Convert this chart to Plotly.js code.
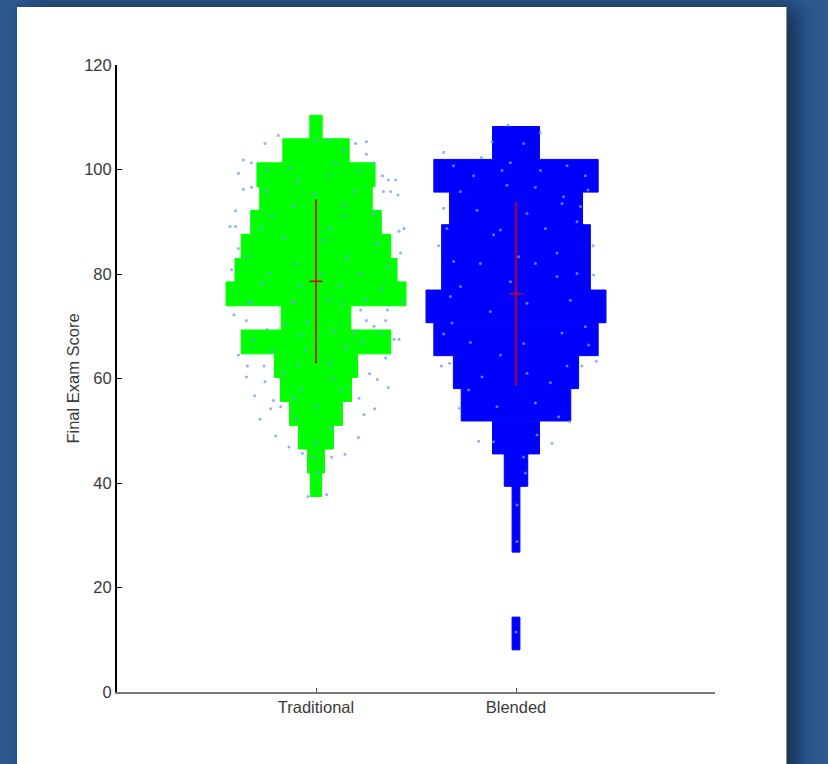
<!DOCTYPE html>
<html>
<head>
<meta charset="utf-8">
<script src="https://cdn.plot.ly/plotly-3.0.1.min.js"></script>
<style>
  html, body { margin: 0; padding: 0; width: 828px; height: 764px; overflow: hidden; background: rgb(44, 90, 145); }
  #panel { position: absolute; left: 17px; top: 7px; width: 769px; height: 820px; background: #ffffff;
           border-right: 1px solid #8a8f99; box-shadow: 10px 0 22px rgba(5, 15, 35, 0.6); }
  #chart { position: absolute; left: 0; top: 0; width: 828px; height: 764px; }
</style>
</head>
<body>
<div id="panel"></div>
<div id="chart"></div>
<script>
// ---------- data ----------
const categories = ['Traditional', 'Blended'];
const tickLabels = ['Traditional', 'Blended'];

// histogram bins (centres of score bins) and relative bin density
const greenBinCentres = [108.1, 103.6, 99.0, 94.4, 89.9, 85.3, 80.7, 76.2, 71.6, 67.0, 62.5, 57.9, 53.3, 48.8, 44.2, 39.7];
const greenDensity    = [1.1, 5.9, 10.5, 10.0, 11.6, 13.3, 14.4, 16.0, 6.2, 13.3, 7.4, 6.3, 4.7, 3.1, 1.5, 1.0];
const blueBinCentres  = [105.1, 98.8, 92.5, 86.3, 80.0, 73.8, 67.5, 61.2, 55.0, 48.7, 42.5, 36.2, 29.9, 23.7, 17.4, 11.2];
const blueDensity     = [6, 21, 17, 19, 19, 23, 21, 16, 14, 6, 3, 1, 1, 0, 0, 1];
const greenBinHeight = 4.57;
const blueBinHeight = 6.26;

// mean and standard deviation
const means = [78.6, 76.2];
const sds = [15.5, 17.4];

// raw scores with horizontal jitter
const tradScores = [106.5,105.0,105.0,105.3,102.9,101.8,101.3,101.3,99.3,98.8,98.0,98.0,96.2,96.6,95.8,95.8,95.1,92.1,89.1,89.1,88.7,88.2,84.9,84.0,80.8,72.2,73.1,73.1,
  105.6,105.7,103.7,101.3,99.8,99.9,100.2,97.7,98.8,95.8,95.4,95.8,92.9,93.2,91.6,91.0,91.0,88.7,88.7,86.8,86.5,85.9,83.3,82.0,83.3,81.4,80.1,80.1,80.1,78.2,77.6,77.6,77.3,74.7,74.7,75.0,75.0,74.7,
  71.1,64.5,62.4,62.4,60.3,59.4,56.7,55.8,54.2,54.6,52.2,49.0,46.9,45.7,37.4,37.8,45.0,45.5,48.7,53.1,54.2,56.2,58.3,59.8,60.9,63.9,67.5,67.5,71.1,71.1,70.0,
  74.4,74.5,74.3,70.4,70.9,69.0,68.7,69.4,67.4,68.3,67.0,68.7,65.1,65.5,66.1,62.9,62.6,61.0,60.0,58.1,57.8,56.2,54.6,50.5,52.4,47.6,45.0,41.9];
const tradJitter = [-0.188,-0.255,0.198,0.252,0.252,-0.363,-0.323,0.29,-0.388,0.332,0.362,0.398,-0.363,-0.322,0.337,0.373,0.41,-0.402,-0.43,-0.402,0.44,0.415,-0.388,0.423,-0.422,-0.41,0.223,0.357,
  0,0.065,0.135,0.098,0.215,-0.243,-0.135,-0.093,0.065,-0.252,-0.01,0.19,-0.11,0.14,0.29,-0.218,0.148,-0.277,0.068,-0.16,0.04,0.307,-0.343,-0.093,0.157,0.357,-0.235,0.023,0.223,-0.268,-0.077,0.123,0.332,-0.335,-0.11,0.065,0.248,0.432,
  -0.348,-0.388,-0.343,-0.26,-0.348,-0.255,-0.307,-0.213,-0.227,-0.177,-0.28,-0.202,-0.135,-0.068,-0.04,0.053,0.078,0.145,0.212,0.24,0.293,0.215,0.362,0.307,0.268,0.348,0.39,0.415,0.348,0.252,0.29,
  -0.327,-0.118,0.132,-0.16,-0.043,0.09,0.19,-0.243,-0.31,-0.077,0.232,0.323,-0.218,-0.052,0.148,0.065,-0.093,-0.16,0.082,-0.068,0.123,-0.11,0,0.073,-0.102,0,-0.01,0.007];

const blendScores = [103.3,92.6,85.4,85.4,79.8,108.5,107.1,102.3,96.1,92.9,
  105.3,105.0,101.3,100.7,98.8,99.8,99.8,100.7,98.8,95.8,97.0,96.6,94.8,92.2,91.6,93.5,88.7,88.4,88.7,90.0,87.5,83.3,84.0,82.4,82.0,82.0,80.1,77.6,78.5,79.5,75.7,72.8,74.4,75.0,
  62.4,62.9,62.4,63.3,48.0,47.6,54.3,51.7,
  70.6,68.5,66.9,64.5,66.7,68.7,69.9,66.4,62.4,61.0,60.3,57.8,54.6,55.3,59.2,52.7,47.9,49.2,45.0,41.9,35.8,28.8,11.5];
const blendJitter = [-0.362,-0.362,-0.387,0.385,0.388,-0.04,0.122,-0.173,0.36,0.322,
  -0.12,0.038,-0.028,-0.312,-0.212,-0.07,0.122,0.255,0.347,-0.278,-0.045,0.097,0.238,-0.195,0.055,0.23,-0.345,-0.078,0.147,0.305,-0.112,0.013,0.205,-0.312,-0.178,0.097,0.305,-0.278,-0.028,0.205,-0.328,-0.128,0.055,0.272,
  -0.373,-0.332,0.33,0.402,-0.187,0.18,-0.282,0.268,
  -0.32,-0.362,-0.228,-0.078,0.038,0.23,0.347,0.363,0.255,0.055,-0.17,-0.237,-0.095,0.097,0.172,0.213,-0.112,0.105,0.038,0.047,0.005,0.005,0.0];

// ---------- build ----------
const maxWidth = 0.9;
function widths(d) { const m = Math.max(...d); return d.map(v => v / m * maxWidth); }
function seam(d) { return d.map(v => v > 0 ? 1 : 0); }
const gW = widths(greenDensity);
const bW = widths(blueDensity);

const greenBars = {
  type: 'bar', orientation: 'h', y: greenBinCentres, x: gW, base: gW.map(w => 1 - w / 2),
  width: greenBinHeight, marker: { color: '#00ff00', line: { width: seam(greenDensity), color: '#00ff00' } }, hoverinfo: 'skip', name: categories[0]
};
const blueBars = {
  type: 'bar', orientation: 'h', y: blueBinCentres, x: bW, base: bW.map(w => 2 - w / 2),
  width: blueBinHeight, marker: { color: '#0000ff', line: { width: seam(blueDensity), color: '#0000ff' } }, hoverinfo: 'skip', name: categories[1]
};
const dotStyle = { size: 3, color: 'rgba(105,160,255,0.8)', line: { width: 0 } };
const tradDots = { type: 'scatter', mode: 'markers', x: tradJitter.map(j => 1 + j), y: tradScores, marker: dotStyle, hoverinfo: 'skip' };
const blendDots = { type: 'scatter', mode: 'markers', x: blendJitter.map(j => 2 + j), y: blendScores, marker: dotStyle, hoverinfo: 'skip' };
const meanSd = {
  type: 'scatter', mode: 'markers', x: [1, 2], y: means,
  marker: { symbol: 'line-ew', size: 9, color: 'rgb(215,0,0)', line: { color: 'rgb(215,0,0)', width: 1.5 } },
  error_y: { type: 'data', array: sds, visible: true, color: 'rgb(215,0,0)', thickness: 1.5, width: 1 },
  hoverinfo: 'skip'
};

const font = { family: 'Liberation Sans, Arial, sans-serif', size: 16.5, color: '#3a3a3a' };
const layout = {
  width: 828, height: 764,
  margin: { l: 117, r: 113, t: 65, b: 72, pad: 0 },
  paper_bgcolor: 'rgba(0,0,0,0)', plot_bgcolor: 'rgba(0,0,0,0)',
  showlegend: false, barmode: 'overlay', font: font,
  xaxis: {
    range: [0.005, 2.995], tickmode: 'array', tickvals: [1, 2], ticktext: tickLabels,
    ticks: 'inside', ticklen: 4, tickwidth: 1, tickcolor: '#555',
    showline: true, linecolor: '#7a7a7a', linewidth: 1.5, showgrid: false, zeroline: false,
    tickfont: font, fixedrange: true
  },
  yaxis: {
    range: [0, 120], tickmode: 'linear', tick0: 0, dtick: 20,
    ticks: 'inside', ticklen: 5, tickwidth: 1, tickcolor: '#000',
    showline: true, linecolor: '#000', linewidth: 2, showgrid: false, zeroline: false,
    tickfont: font, automargin: true,
    title: { text: 'Final Exam Score', font: font, standoff: 0 }, fixedrange: true
  }
};

Plotly.newPlot('chart', [greenBars, blueBars, tradDots, blendDots, meanSd], layout, { displayModeBar: false, staticPlot: true });
</script>
</body>
</html>
